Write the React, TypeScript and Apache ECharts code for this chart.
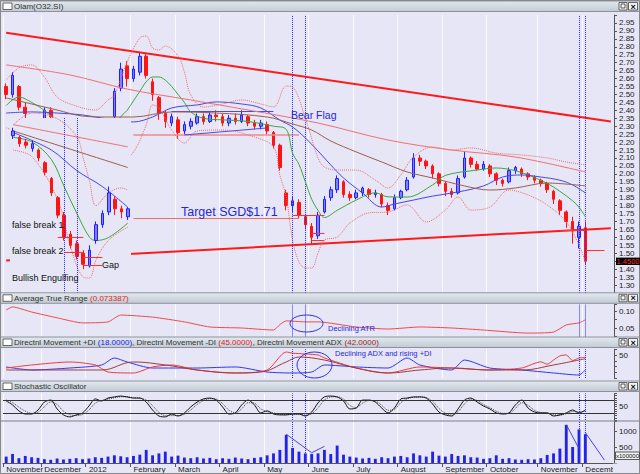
import React, { useEffect, useRef } from 'react';
import * as echarts from 'echarts';

// ---------- axis / calendar ----------
const SLOTS = 96; // 3 trading days per slot
const monthStarts = [0, 6, 13, 20, 27, 34, 41, 48, 55, 62, 69, 76, 84, 91];
const monthLabels = ['November', 'December', '2012', 'February', 'March', 'April', 'May', 'June', 'July', 'August', 'September', 'October', 'November', 'December'];
const priceTicksMin = 1.3;
const priceTicksMax = 2.95;
const lastPrice = 1.45;

// ---------- main price (open, close, low, high) ----------
const olamOHLC = [
  [2.55, 2.5, 2.47, 2.57], [2.5, 2.62, 2.48, 2.64], [2.55, 2.42, 2.4, 2.56], [2.42, 2.38, 2.33, 2.45],
  [2.33, 2.29, 2.26, 2.34], [2.29, 2.33, 2.27, 2.35], [2.34, 2.4, 2.33, 2.42], [2.4, 2.36, 2.34, 2.42],
  [2.34, 2.28, 2.25, 2.35], [2.28, 2.22, 2.2, 2.3], [2.22, 2.18, 2.15, 2.24], [2.18, 2.14, 2.11, 2.2],
  [2.14, 2.1, 2.07, 2.16], [2.1, 2.12, 2.06, 2.14], [2.12, 2.16, 2.1, 2.18], [2.16, 2.22, 2.14, 2.24],
  [2.22, 2.3, 2.2, 2.32], [2.36, 2.52, 2.34, 2.54], [2.54, 2.66, 2.52, 2.7], [2.68, 2.6, 2.55, 2.71],
  [2.6, 2.66, 2.58, 2.68], [2.64, 2.74, 2.62, 2.76], [2.74, 2.62, 2.6, 2.76], [2.58, 2.5, 2.46, 2.6],
  [2.48, 2.38, 2.34, 2.49], [2.38, 2.33, 2.29, 2.4], [2.32, 2.36, 2.3, 2.38], [2.34, 2.26, 2.22, 2.36],
  [2.27, 2.31, 2.25, 2.33], [2.3, 2.33, 2.28, 2.35], [2.32, 2.36, 2.31, 2.38], [2.36, 2.33, 2.31, 2.38],
  [2.33, 2.37, 2.32, 2.39], [2.37, 2.36, 2.33, 2.4], [2.36, 2.32, 2.3, 2.38], [2.32, 2.35, 2.3, 2.37],
  [2.35, 2.33, 2.31, 2.38], [2.33, 2.37, 2.32, 2.4], [2.36, 2.32, 2.3, 2.37], [2.32, 2.3, 2.28, 2.34],
  [2.3, 2.32, 2.28, 2.34], [2.31, 2.27, 2.25, 2.33], [2.26, 2.18, 2.16, 2.27], [2.18, 2.04, 2.02, 2.19],
  [1.88, 1.8, 1.77, 1.9], [1.8, 1.83, 1.76, 1.86], [1.82, 1.74, 1.72, 1.84], [1.73, 1.68, 1.65, 1.74],
  [1.67, 1.6, 1.56, 1.69], [1.61, 1.74, 1.59, 1.76], [1.76, 1.84, 1.75, 1.86], [1.85, 1.9, 1.83, 1.92],
  [1.9, 1.97, 1.88, 1.99], [1.95, 1.87, 1.85, 1.96], [1.87, 1.85, 1.83, 1.89], [1.85, 1.88, 1.84, 1.9],
  [1.88, 1.91, 1.86, 1.92], [1.9, 1.87, 1.85, 1.91], [1.87, 1.88, 1.85, 1.9], [1.87, 1.81, 1.79, 1.88],
  [1.8, 1.77, 1.74, 1.82], [1.78, 1.85, 1.77, 1.87], [1.85, 1.89, 1.84, 1.9], [1.9, 1.96, 1.89, 1.98],
  [1.98, 2.1, 1.97, 2.13], [2.1, 2.08, 2.05, 2.12], [2.08, 2.05, 2.03, 2.09], [2.05, 2.0, 1.97, 2.06],
  [2.0, 1.94, 1.92, 2.01], [1.94, 1.89, 1.86, 1.95], [1.89, 1.87, 1.85, 1.91], [1.88, 1.97, 1.87, 1.99],
  [1.98, 2.1, 1.97, 2.14], [2.1, 2.06, 2.04, 2.11], [2.06, 2.03, 2.02, 2.08], [2.03, 2.06, 2.02, 2.08],
  [2.05, 2.0, 1.98, 2.06], [2.0, 1.96, 1.93, 2.01], [1.96, 1.94, 1.92, 1.97], [1.95, 2.02, 1.94, 2.04],
  [2.02, 2.04, 2.0, 2.05], [2.03, 2.0, 1.98, 2.04], [2.0, 1.98, 1.96, 2.01], [1.98, 1.96, 1.94, 1.99],
  [1.96, 1.94, 1.92, 1.97], [1.94, 1.9, 1.88, 1.95], [1.89, 1.84, 1.81, 1.9], [1.83, 1.77, 1.74, 1.84],
  [1.76, 1.7, 1.66, 1.77], [1.7, 1.64, 1.56, 1.73], [1.6, 1.67, 1.53, 1.7], [1.66, 1.45, 1.43, 1.7],
];

// moving averages / bands as [slot, price]
const maShort = [[0, 2.43], [2, 2.484], [4, 2.45], [6, 2.4], [8, 2.33], [11, 2.24], [14, 2.2], [16, 2.26], [18, 2.36], [19, 2.4], [20, 2.46], [21, 2.52], [22, 2.58], [23, 2.61], [24, 2.61], [25, 2.59], [26, 2.55], [27, 2.5], [28, 2.45], [29, 2.39], [31, 2.35], [34, 2.34], [38, 2.33], [42, 2.3], [44, 2.28], [45, 2.13], [46, 2.06], [47, 1.95], [48, 1.84], [49, 1.77], [50, 1.725], [52, 1.77], [55, 1.835], [58, 1.88], [60, 1.855], [63, 1.854], [67, 1.93], [69, 1.99], [74, 2.024], [77, 2.037], [80, 2.02], [82, 1.993], [85, 1.94], [87, 1.89], [89, 1.83], [90, 1.79], [91, 1.73]];
const maMid = [[0, 2.383], [4, 2.39], [8, 2.383], [12, 2.371], [16, 2.345], [20, 2.327], [23, 2.358], [26, 2.415], [30, 2.434], [33, 2.453], [37, 2.44], [40, 2.415], [43, 2.339], [45, 2.295], [47, 2.226], [49, 2.144], [51, 2.056], [53, 1.974], [56, 1.879], [59, 1.791], [61, 1.81], [64, 1.835], [67, 1.86], [71, 1.886], [75, 1.924], [78, 1.98], [81, 1.993], [84, 1.98], [87, 1.96], [89, 1.93], [91, 1.88]];
const maLong = [[0, 2.478], [4, 2.44], [8, 2.402], [12, 2.364], [16, 2.358], [20, 2.358], [26, 2.39], [33, 2.383], [41, 2.358], [45, 2.314], [48, 2.276], [51, 2.207], [55, 2.138], [59, 2.075], [63, 2.012], [67, 1.974], [72, 1.924], [76, 1.898], [80, 1.911], [85, 1.942], [91, 1.924]];
const maVeryLong = [[0, 2.686], [10, 2.623], [19, 2.534], [29, 2.465], [38, 2.402], [49, 2.32], [60, 2.213], [70, 2.15], [80, 2.106], [91, 2.012]];
const bandUpper = [[0, 2.591], [2, 2.667], [4, 2.686], [6, 2.61], [8, 2.484], [11, 2.427], [14, 2.402], [16, 2.465], [17, 2.497], [19, 2.704], [21, 2.856], [22, 2.868], [23, 2.793], [24, 2.78], [25, 2.805], [27, 2.742], [28, 2.641], [29, 2.497], [31, 2.421], [34, 2.44], [37, 2.465], [40, 2.44], [42, 2.421], [44, 2.553], [45, 2.547], [47, 2.352], [49, 2.1], [50, 2.043], [52, 2.024], [55, 2.024], [58, 1.961], [60, 1.911], [62, 1.993], [64, 2.106], [67, 2.169], [70, 2.15], [73, 2.163], [77, 2.131], [81, 2.119], [85, 2.1], [88, 2.075], [91, 2.056]];
const bandLower = [[0, 2.289], [3, 2.264], [6, 2.276], [8, 2.213], [12, 2.087], [16, 2.056], [18, 2.075], [20, 2.137], [22, 2.308], [23, 2.434], [24, 2.415], [26, 2.276], [28, 2.194], [30, 2.27], [34, 2.276], [39, 2.232], [42, 2.169], [43, 1.993], [44, 1.854], [45, 1.583], [46, 1.445], [47, 1.407], [48, 1.407], [49, 1.502], [50, 1.583], [52, 1.602], [54, 1.69], [57, 1.754], [60, 1.76], [63, 1.804], [66, 1.697], [69, 1.772], [71, 1.854], [73, 1.772], [76, 1.791], [79, 1.898], [82, 1.867], [85, 1.804], [88, 1.697], [90, 1.552], [91, 1.445]];

// trend / pattern lines: [slotA, priceA, slotB, priceB]
const trendLines = [[0, 2.888, 95, 2.33], [0, 1.454, 95, 1.658]];
const flagLines = [[26, 2.396, 42, 2.396], [28, 2.245, 41, 2.289]];
const supportLines = [[20, 2.245, 46, 2.245]];
const targetLine = [[20, 1.722, 46, 1.722]];
const shortLevels = [[45, 1.741, 50, 1.741], [48, 1.628, 50, 1.628], [48, 1.583, 50, 1.583], [87, 1.646, 91, 1.646], [91, 1.52, 94, 1.52]];
const markerSlots = [45, 47, 90, 91];

// ---------- inset (earlier pattern) ----------
const insetSlots = 19;
const insetOHLC = [
  [2.24, 2.27, 2.22, 2.29], [2.23, 2.19, 2.17, 2.24], [2.2, 2.18, 2.16, 2.22], [2.16, 2.19, 2.14, 2.21],
  [2.15, 2.1, 2.08, 2.16], [2.07, 2.01, 1.99, 2.08], [1.97, 1.88, 1.86, 1.98], [1.85, 1.74, 1.72, 1.86],
  [1.74, 1.6, 1.58, 1.76], [1.62, 1.55, 1.53, 1.64], [1.56, 1.48, 1.46, 1.58], [1.5, 1.43, 1.4, 1.52],
  [1.42, 1.52, 1.41, 1.55], [1.58, 1.68, 1.56, 1.7], [1.68, 1.75, 1.66, 1.77], [1.76, 1.88, 1.74, 1.92],
  [1.84, 1.78, 1.74, 1.86], [1.78, 1.76, 1.72, 1.8], [1.73, 1.78, 1.71, 1.79],
];
const insetShort = [[0, 2.23], [3, 2.2], [6, 2.09], [8, 1.92], [10, 1.75], [12, 1.6], [13, 1.58], [15, 1.6], [18, 1.69]];
const insetMid = [[0, 2.26], [6, 2.15], [10, 2.02], [14, 1.92], [18, 1.79]];
const insetLong = [[0, 2.27], [18, 2.04]];
const insetVeryLong = [[0, 2.31], [18, 2.17]];
const insetUpper = [[0, 2.308], [3, 2.383], [7, 2.345], [10, 2.232], [11, 2.1], [12, 1.95], [13, 1.8], [15, 1.88], [17, 1.911], [18, 1.898]];
const insetLower = [[0, 2.15], [3, 2.106], [7, 1.835], [9, 1.539], [11, 1.35], [12, 1.344], [13, 1.458], [15, 1.583], [18, 1.665]];
const insetLevels = [[7, 1.602, 11, 1.602], [8, 1.508, 11, 1.508], [11, 1.476, 14, 1.476], [11, 1.426, 14, 1.426]];
const insetMarkerSlots = [8, 10];

// ---------- indicators ----------
const atr = [[0, 0.103], [1, 0.112], [4, 0.097], [8, 0.08], [12, 0.065], [16, 0.068], [18, 0.088], [23, 0.082], [28, 0.068], [32, 0.053], [37, 0.05], [42, 0.044], [43, 0.06], [44, 0.071], [47, 0.068], [49, 0.068], [55, 0.053], [60, 0.047], [65, 0.053], [70, 0.05], [75, 0.044], [82, 0.035], [86, 0.038], [88, 0.059], [90, 0.065], [91, 0.074]];
const plusDI = [[0, 24], [4, 17.4], [10, 21.7], [15, 28.3], [17, 43.5], [19, 34.8], [23, 21.7], [30, 21.7], [36, 24], [41, 13], [45, 10.9], [48, 13], [50, 28.3], [55, 24], [60, 21.7], [63, 43.5], [65, 28.3], [70, 17.4], [72, 39], [76, 21.7], [81, 17.4], [86, 10.9], [90, 6.5], [91, 18]];
const minusDI = [[0, 21.7], [4, 28.3], [10, 34.8], [14, 28.3], [16, 13], [20, 10.9], [23, 24], [26, 28.3], [30, 17.4], [36, 10.9], [41, 17.4], [44, 56.5], [45, 54], [49, 50], [50, 43.5], [55, 21.7], [60, 10.9], [65, 24], [70, 21.7], [76, 17.4], [81, 21.7], [84, 35], [85, 30], [86, 39], [87, 48], [88, 50], [89, 38], [90, 43.5], [91, 45]];
const adx = [[0, 17.4], [10, 17.4], [15, 17.4], [20, 34.8], [25, 28.3], [30, 17.4], [36, 10.9], [40, 13], [44, 34.8], [46, 45.6], [50, 39], [55, 21.7], [60, 10.9], [65, 17.4], [70, 21.7], [76, 17.4], [81, 17.4], [86, 28.3], [91, 42]];
const stochK = [76, 58, 31, 17, 17, 35, 71, 80, 40, 13, 4, 13, 22, 53, 85, 76, 89, 94, 98, 94, 89, 89, 71, 35, 8, 4, 17, 8, 22, 49, 71, 85, 89, 80, 49, 17, 22, 58, 80, 58, 22, 31, 17, 13, 13, 17, 17, 8, 26, 67, 94, 98, 94, 76, 40, 44, 80, 80, 71, 44, 22, 44, 85, 89, 94, 94, 89, 62, 26, 13, 8, 40, 80, 89, 71, 53, 40, 22, 17, 22, 58, 80, 44, 26, 22, 22, 8, 13, 22, 35, 22, 35];
const stochD = [80, 68, 48, 30, 20, 25, 50, 72, 60, 30, 14, 10, 15, 35, 66, 78, 84, 90, 95, 95, 91, 89, 80, 55, 24, 10, 10, 10, 16, 35, 60, 78, 86, 84, 64, 34, 22, 40, 68, 66, 40, 28, 22, 16, 14, 15, 16, 12, 18, 45, 80, 94, 95, 84, 56, 46, 66, 78, 76, 56, 34, 38, 68, 86, 92, 94, 91, 74, 42, 20, 12, 28, 62, 84, 78, 60, 46, 30, 20, 20, 42, 68, 56, 34, 24, 22, 14, 12, 18, 28, 26, 30];
const stochLevels = [20, 80];
const volume = [200, 280, 150, 220, 180, 160, 120, 100, 140, 110, 130, 150, 120, 140, 180, 160, 200, 240, 210, 180, 220, 260, 410, 240, 300, 355, 200, 230, 170, 150, 180, 140, 160, 120, 150, 130, 170, 140, 120, 160, 180, 240, 300, 410, 880, 470, 355, 300, 280, 300, 410, 280, 545, 260, 200, 170, 140, 160, 130, 180, 150, 200, 220, 180, 300, 240, 200, 355, 230, 200, 280, 220, 240, 180, 170, 130, 150, 240, 130, 150, 110, 100, 120, 110, 150, 250, 300, 450, 1190, 500, 1050, 900];
const volumeLines = [[44, 900, 48, 320], [48, 320, 50, 520], [88, 1200, 90, 450], [91, 950, 94, 90]];

// ---------- styling ----------
const BG = '#e6e6f6';
const FONT = 'Liberation Sans, Arial, sans-serif';
const cats = Array.from({ length: SLOTS }, (_, i) => 'd' + i);
const insetCats = Array.from({ length: insetSlots }, (_, i) => 'i' + i);
const monthLabelAt = (i: number) => {
  const k = monthStarts.indexOf(i);
  return k >= 0 ? monthLabels[k] : '';
};

const seg = (s: number[], color: string, width: number, type = 'solid') => [
  { coord: [s[0], s[1]], lineStyle: { color, width, type } },
  { coord: [s[2], s[3]] },
];
const vMark = (slot: number) => ({ xAxis: cats[slot], lineStyle: { color: '#2b2bff', width: 1, type: 'dotted' } });

const xCat = (gridIndex: number, showLabels: boolean) => ({
  type: 'category', gridIndex, data: cats, boundaryGap: true,
  axisLine: { show: showLabels, lineStyle: { color: '#555' } },
  axisTick: { show: showLabels, interval: (i: number) => monthStarts.includes(i), length: 4, lineStyle: { color: '#555' } },
  axisLabel: {
    show: showLabels, interval: 0, align: 'left', fontSize: 8, color: '#222', margin: 2, fontFamily: FONT,
    formatter: (_v: string, i: number) => monthLabelAt(i),
  },
  splitLine: { show: true, interval: (i: number) => monthStarts.includes(i), lineStyle: { color: '#fafaff', width: 1 } },
});
const yRight = (gridIndex: number, min: number, max: number, interval: number, fmt: (v: number) => string) => ({
  type: 'value', gridIndex, position: 'right', min, max, interval,
  axisLine: { show: true, lineStyle: { color: '#555' } },
  axisTick: { show: true, length: 3, lineStyle: { color: '#555' } },
  axisLabel: { fontSize: 8, color: '#222', margin: 5, fontFamily: FONT, formatter: fmt },
  splitLine: { show: false },
});
const near = (a: number, b: number) => Math.abs(a - b) < 1e-6;

const lineS = (name: string, data: number[][] | number[], color: string, xi: number, yi: number, extra: any = {}) => ({
  name, type: 'line', data, xAxisIndex: xi, yAxisIndex: yi, showSymbol: false, symbol: 'none',
  connectNulls: true, smooth: 0.35, silent: true,
  lineStyle: { color, width: 1, ...(extra.lineStyle || {}) },
  ...Object.fromEntries(Object.entries(extra).filter(([k]) => k !== 'lineStyle')),
});

const headerGrad = {
  type: 'linear', x: 0, y: 0, x2: 0, y2: 1,
  colorStops: [{ offset: 0, color: '#e4e9ef' }, { offset: 1, color: '#c2cad4' }],
};
const headers = [
  { y: 1, text: '{t|Olam(O32.SI)}' },
  { y: 292.8, text: '{t|Average True Range }{r|(0.073387)}' },
  { y: 337.0, text: '{t|Directnl Movement +DI }{b|(18.0000)}{t|, Directnl Movement -DI }{r|(45.0000)}{t|, Directnl Movement ADX }{d|(42.0000)}' },
  { y: 381.0, text: '{t|Stochastic Oscillator}' },
];

function buildGraphics() {
  const g: any[] = [];
  // cover for inset region
  g.push({ type: 'rect', shape: { x: 10, y: 118, width: 121, height: 174.5 }, style: { fill: BG }, z: 4, silent: true });
  headers.forEach((h) => {
    g.push({ type: 'rect', shape: { x: 0, y: h.y, width: 640, height: 10.5 }, style: { fill: headerGrad, stroke: '#7a8089', lineWidth: 0.8 }, z: 20, silent: true });
    g.push({ type: 'rect', shape: { x: 3, y: h.y + 2, width: 9, height: 6.5 }, style: { fill: '#ffffff', stroke: '#444', lineWidth: 0.8 }, z: 21, silent: true });
    g.push({
      type: 'text', x: 14, y: h.y + 5.6, z: 21, silent: true,
      style: {
        text: h.text, verticalAlign: 'middle', fontSize: 8, fontFamily: FONT,
        rich: {
          t: { fill: '#333', fontSize: 8, fontFamily: FONT },
          r: { fill: '#e41c1c', fontSize: 8, fontFamily: FONT },
          b: { fill: '#2222ee', fontSize: 8, fontFamily: FONT },
          d: { fill: '#a02828', fontSize: 8, fontFamily: FONT },
        },
      },
    });
    g.push({ type: 'rect', shape: { x: 619, y: h.y + 1.5, width: 8, height: 7.5 }, style: { fill: '#f6f6f6', stroke: '#444', lineWidth: 0.8 }, z: 21, silent: true });
    g.push({ type: 'rect', shape: { x: 621, y: h.y + 3, width: 4, height: 4 }, style: { fill: 'none', stroke: '#333', lineWidth: 0.8 }, z: 22, silent: true });
    g.push({ type: 'rect', shape: { x: 628.5, y: h.y + 1.5, width: 9, height: 7.5 }, style: { fill: '#f6f6f6', stroke: '#444', lineWidth: 0.8 }, z: 21, silent: true });
    g.push({ type: 'text', x: 633, y: h.y + 5.5, z: 22, silent: true, style: { text: '×', fill: '#111', fontSize: 9, fontWeight: 'bold', align: 'center', verticalAlign: 'middle', fontFamily: FONT } });
  });
  // volume separator
  g.push({ type: 'line', shape: { x1: 0, y1: 421, x2: 640, y2: 421 }, style: { stroke: '#7a8089', lineWidth: 1 }, z: 20, silent: true });
  // outer frame
  g.push({ type: 'rect', shape: { x: 0.5, y: 0.5, width: 639, height: 473 }, style: { fill: 'none', stroke: '#888', lineWidth: 1 }, z: 25, silent: true });
  // annotations
  const blueTxt = '#2626d6';
  g.push({ type: 'text', x: 291, y: 115, z: 30, silent: true, style: { text: 'Bear Flag', fill: blueTxt, fontSize: 10.5, fontFamily: FONT, verticalAlign: 'middle' } });
  g.push({ type: 'text', x: 181, y: 212, z: 30, silent: true, style: { text: 'Target SGD$1.71', fill: blueTxt, fontSize: 12.5, fontFamily: FONT, verticalAlign: 'middle' } });
  g.push({ type: 'text', x: 328, y: 328, z: 30, silent: true, style: { text: 'Declining ATR', fill: blueTxt, fontSize: 7.5, fontFamily: FONT, verticalAlign: 'middle' } });
  g.push({ type: 'text', x: 335, y: 353, z: 30, silent: true, style: { text: 'Declining ADX and rising +DI', fill: blueTxt, fontSize: 7.5, fontFamily: FONT, verticalAlign: 'middle' } });
  g.push({ type: 'ellipse', shape: { cx: 306.5, cy: 323.5, rx: 16.5, ry: 8.5 }, style: { fill: 'none', stroke: '#3030e0', lineWidth: 1 }, z: 30, silent: true });
  g.push({ type: 'ellipse', shape: { cx: 314.5, cy: 365, rx: 17.5, ry: 13 }, style: { fill: 'none', stroke: '#3030e0', lineWidth: 1 }, z: 30, silent: true });
  const dark = '#111';
  g.push({ type: 'text', x: 12, y: 225, z: 30, silent: true, style: { text: 'false break 1', fill: dark, fontSize: 9, fontFamily: FONT, verticalAlign: 'middle' } });
  g.push({ type: 'text', x: 12, y: 251, z: 30, silent: true, style: { text: 'false break 2', fill: dark, fontSize: 9, fontFamily: FONT, verticalAlign: 'middle' } });
  g.push({ type: 'text', x: 12, y: 278, z: 30, silent: true, style: { text: 'Bullish Engulfing', fill: dark, fontSize: 9, fontFamily: FONT, verticalAlign: 'middle' } });
  g.push({ type: 'text', x: 102, y: 265, z: 30, silent: true, style: { text: 'Gap', fill: dark, fontSize: 9, fontFamily: FONT, verticalAlign: 'middle' } });
  // last price tag
  g.push({ type: 'rect', shape: { x: 616, y: 257.6, width: 24, height: 7.4 }, style: { fill: '#000' }, z: 30, silent: true });
  g.push({ type: 'text', x: 628, y: 261.4, z: 31, silent: true, style: { text: lastPrice.toFixed(4), fill: '#ff3030', fontSize: 7.5, fontFamily: FONT, align: 'center', verticalAlign: 'middle' } });
  // volume unit
  g.push({ type: 'rect', shape: { x: 615.5, y: 452, width: 24, height: 7.5 }, style: { fill: '#f2f2f2', stroke: '#333', lineWidth: 0.8 }, z: 30, silent: true });
  g.push({ type: 'text', x: 627.5, y: 455.8, z: 31, silent: true, style: { text: 'x100000', fill: '#111', fontSize: 6, fontFamily: FONT, align: 'center', verticalAlign: 'middle' } });
  // clip last month label at the axis edge
  g.push({ type: 'rect', shape: { x: 613, y: 463.5, width: 26.5, height: 10 }, style: { fill: BG }, z: 24, silent: true });
  return g;
}

function buildOption() {
  const candleStyle = { color: '#8080ff', color0: '#ff1414', borderColor: '#1f1fff', borderColor0: '#ff1414', borderWidth: 1 };
  const dotted = { type: 'dotted', width: 1 };
  const option: any = {
    animation: false,
    backgroundColor: BG,
    textStyle: { fontFamily: FONT },
    grid: [
      { left: 3, right: 26, top: 15.06, height: 277.88 },
      { left: 10, width: 121.03, top: 15.06, height: 277.88 },
      { left: 3, right: 26, top: 304.2, height: 32.3 },
      { left: 3, right: 26, top: 349.25, height: 28.75 },
      { left: 3, right: 26, top: 393.4, height: 26.6 },
      { left: 3, right: 26, top: 421.4, height: 41.6 },
    ],
    xAxis: [
      xCat(0, false),
      { type: 'category', gridIndex: 1, data: insetCats, boundaryGap: true, show: false },
      xCat(2, false),
      xCat(3, false),
      xCat(4, false),
      xCat(5, true),
    ],
    yAxis: [
      yRight(0, 1.25, 3.0, 0.05, (v) =>
        v < priceTicksMin - 0.01 || v > priceTicksMax + 0.01 || near(v, lastPrice) ? '' : v.toFixed(2)),
      { type: 'value', gridIndex: 1, min: 1.25, max: 3.0, show: false, splitLine: { show: false } },
      yRight(2, 0.025, 0.12, 0.025, (v) => (near(v, 0.05) ? '0.05' : near(v, 0.1) ? '0.10' : '')),
      yRight(3, 0, 62.5, 12.5, (v) => (near(v, 50) ? '50' : '')),
      yRight(4, -10, 110, 10, (v) => (near(v, 50) ? '50' : '')),
      yRight(5, 0, 1300, 500, (v) => (near(v, 500) || near(v, 1000) ? String(v) : '')),
    ],
    series: [
      // ---- main panel ----
      { name: 'Olam', type: 'candlestick', xAxisIndex: 0, yAxisIndex: 0, data: olamOHLC, barWidth: '48%', itemStyle: candleStyle, silent: true },
      lineS('MA short', maShort, '#3aa83a', 0, 0),
      lineS('MA mid', maMid, '#4646e8', 0, 0),
      lineS('MA long', maLong, '#9a5e4e', 0, 0),
      lineS('BB upper', bandUpper, '#f06a6a', 0, 0, { lineStyle: dotted }),
      lineS('BB lower', bandLower, '#f06a6a', 0, 0, { lineStyle: dotted }),
      lineS('MA very long', maVeryLong, '#f07070', 0, 0, {
        markLine: {
          silent: true, symbol: ['none', 'none'], label: { show: false }, z: 3, animation: false,
          data: [
            ...trendLines.map((s) => seg(s, '#ff1a1a', 2)),
            ...supportLines.map((s) => seg(s, '#f08a8a', 1.5)),
            ...targetLine.map((s) => seg(s, '#f06a6a', 1)),
            ...flagLines.map((s) => seg(s, '#4a4ae6', 1)),
            ...shortLevels.map((s) => seg(s, '#ff3030', 1)),
            ...markerSlots.map(vMark),
          ],
        },
      }),
      // ---- inset panel ----
      { name: 'Inset', type: 'candlestick', xAxisIndex: 1, yAxisIndex: 1, data: insetOHLC, barWidth: '48%', itemStyle: candleStyle, z: 6, silent: true },
      lineS('Inset MA short', insetShort, '#3aa83a', 1, 1, { z: 6 }),
      lineS('Inset MA mid', insetMid, '#4646e8', 1, 1, { z: 6 }),
      lineS('Inset MA long', insetLong, '#9a5e4e', 1, 1, { z: 6 }),
      lineS('Inset MA very long', insetVeryLong, '#f07070', 1, 1, { z: 6 }),
      lineS('Inset BB upper', insetUpper, '#f06a6a', 1, 1, { z: 6, lineStyle: dotted }),
      lineS('Inset BB lower', insetLower, '#f06a6a', 1, 1, {
        z: 6, lineStyle: dotted,
        markLine: {
          silent: true, symbol: ['none', 'none'], label: { show: false }, z: 7, animation: false,
          data: [
            ...insetLevels.map((s) => seg(s, '#ff3030', 1)),
            ...insetMarkerSlots.map((s) => seg([s, 2.352, s, 1.25], '#2b2bff', 1, 'dotted')),
          ],
        },
      }),
      // ---- ATR ----
      lineS('ATR', atr, '#f04a4a', 2, 2, {
        smooth: 0.2,
        markLine: { silent: true, symbol: ['none', 'none'], label: { show: false }, animation: false, data: markerSlots.map(vMark) },
      }),
      // ---- DMI ----
      lineS('+DI', plusDI, '#3535ee', 3, 3, { smooth: 0.25 }),
      lineS('-DI', minusDI, '#f03a3a', 3, 3, { smooth: 0.25 }),
      lineS('ADX', adx, '#a03a3a', 3, 3, {
        smooth: 0.4,
        markLine: { silent: true, symbol: ['none', 'none'], label: { show: false }, animation: false, data: markerSlots.map(vMark) },
      }),
      // ---- Stochastic ----
      lineS('%D', stochD, '#444', 4, 4, { smooth: 0.3, lineStyle: dotted }),
      lineS('%K', stochK, '#111', 4, 4, {
        smooth: 0.3,
        markLine: {
          silent: true, symbol: ['none', 'none'], label: { show: false }, animation: false,
          data: [
            ...stochLevels.map((v) => ({ yAxis: v, lineStyle: { color: '#333', width: 1, type: 'solid' } })),
            ...markerSlots.map(vMark),
          ],
        },
      }),
      // ---- Volume ----
      {
        name: 'Volume', type: 'bar', xAxisIndex: 5, yAxisIndex: 5, data: volume, barWidth: '45%', silent: true,
        itemStyle: { color: '#2323e6' },
        markLine: {
          silent: true, symbol: ['none', 'none'], label: { show: false }, animation: false,
          data: [...volumeLines.map((s) => seg(s, '#4545e6', 1)), ...markerSlots.map(vMark)],
        },
      },
    ],
    graphic: buildGraphics(),
  };
  return option;
}

export default function App() {
  const ref = useRef<HTMLDivElement>(null);
  useEffect(() => {
    document.body.style.margin = '0';
    const chart = echarts.init(ref.current as HTMLDivElement, undefined, { renderer: 'svg', width: 640, height: 474 });
    chart.setOption(buildOption());
    return () => chart.dispose();
  }, []);
  return <div ref={ref} style={{ width: 640, height: 474 }} />;
}
